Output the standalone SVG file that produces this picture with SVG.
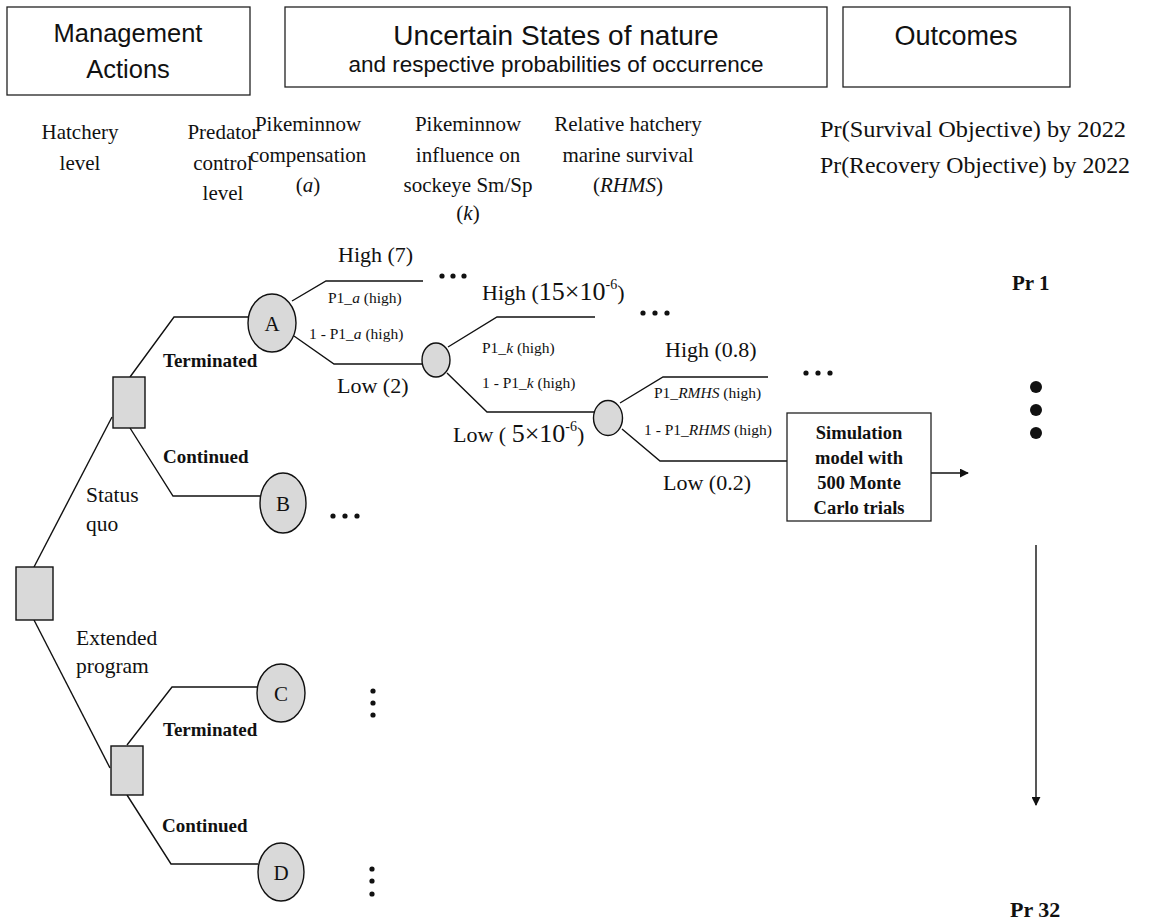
<svg xmlns="http://www.w3.org/2000/svg" width="1152" height="923" viewBox="0 0 1152 923">
<defs>
<style>
.hdr{font-family:"Liberation Sans",Arial,sans-serif;fill:#111;text-anchor:middle}
.ser{font-family:"Liberation Serif","Times New Roman",serif;fill:#111}
.mid{text-anchor:middle}
.b{font-weight:bold}
.box{fill:#fff;stroke:#222;stroke-width:1.3}
.ln{fill:none;stroke:#111;stroke-width:1.4}
.node{fill:#d9d9d9;stroke:#111;stroke-width:1.4}
.dot{fill:#111}
</style>
<marker id="arr" viewBox="0 0 10 10" refX="9" refY="5" markerWidth="9" markerHeight="9" markerUnits="userSpaceOnUse" orient="auto">
<path d="M0,0 L10,5 L0,10 z" fill="#111"/>
</marker>
</defs>
<rect width="1152" height="923" fill="#fff"/>

<g id="headers">
<rect class="box" x="7" y="7" width="243" height="88"/>
<text class="hdr" x="128" y="42" font-size="25.5">Management</text>
<text class="hdr" x="128" y="78" font-size="25.5">Actions</text>
<rect class="box" x="285" y="7" width="542" height="80"/>
<text class="hdr" x="556" y="45" font-size="28">Uncertain States of nature</text>
<text class="hdr" x="556" y="72" font-size="22.5">and respective probabilities of occurrence</text>
<rect class="box" x="843" y="7" width="227" height="80"/>
<text class="hdr" x="956" y="45" font-size="27">Outcomes</text>
</g>

<g id="column-labels" class="ser" font-size="21">
<text class="mid" x="80" y="139">Hatchery</text>
<text class="mid" x="80" y="170">level</text>
<text class="mid" x="223" y="139">Predator</text>
<text class="mid" x="223" y="170">control</text>
<text class="mid" x="223" y="200">level</text>
<text class="mid" x="308" y="131">Pikeminnow</text>
<text class="mid" x="308" y="162">compensation</text>
<text class="mid" x="308" y="192">(<tspan font-style="italic">a</tspan>)</text>
<text class="mid" x="468" y="131">Pikeminnow</text>
<text class="mid" x="468" y="162">influence on</text>
<text class="mid" x="468" y="192">sockeye Sm/Sp</text>
<text class="mid" x="468" y="220">(<tspan font-style="italic">k</tspan>)</text>
<text class="mid" x="628" y="131">Relative hatchery</text>
<text class="mid" x="628" y="162">marine survival</text>
<text class="mid" x="628" y="192">(<tspan font-style="italic">RHMS</tspan>)</text>
<text x="820" y="137" font-size="22.5" textLength="306" lengthAdjust="spacingAndGlyphs">Pr(Survival Objective) by 2022</text>
<text x="820" y="173" font-size="22.5" textLength="310" lengthAdjust="spacingAndGlyphs">Pr(Recovery Objective) by 2022</text>
</g>

<g id="connectors">
<path class="ln" d="M34,567 L112,417"/>
<path class="ln" d="M34,620 L110,768"/>
<path class="ln" d="M130,377 L174,317 L249,317"/>
<path class="ln" d="M130,428 L173,496 L260,496"/>
<path class="ln" d="M127,745 L172,687 L257,687"/>
<path class="ln" d="M127,795 L171,864 L258,864"/>
<path class="ln" d="M292,301 L326,281 L423,281"/>
<path class="ln" d="M294,336 L334,364 L422,364"/>
<path class="ln" d="M448,347 L497,317 L595,317"/>
<path class="ln" d="M447,373 L487,412 L594,412"/>
<path class="ln" d="M620,403 L663,377 L768,377"/>
<path class="ln" d="M622,429 L660,461 L787,461"/>
<path class="ln" d="M931,473 L968,473" marker-end="url(#arr)"/>
<path class="ln" d="M1036,545 L1036,805" marker-end="url(#arr)"/>
</g>

<g id="root"><rect class="node" x="16" y="567" width="37" height="53"/></g>
<g id="hatch-sq"><rect class="node" x="113" y="377" width="32" height="51"/></g>
<g id="hatch-ext"><rect class="node" x="111" y="746" width="32" height="49"/></g>

<g id="node-A"><ellipse class="node" cx="272" cy="323" rx="24" ry="29"/><text class="ser mid" x="272" y="331" font-size="21">A</text></g>
<g id="node-B"><ellipse class="node" cx="283" cy="503" rx="23" ry="30"/><text class="ser mid" x="283" y="511" font-size="21">B</text></g>
<g id="node-C"><ellipse class="node" cx="281" cy="693" rx="24" ry="29"/><text class="ser mid" x="281" y="701" font-size="21">C</text></g>
<g id="node-D"><ellipse class="node" cx="281" cy="872" rx="23" ry="29"/><text class="ser mid" x="281" y="880" font-size="21">D</text></g>
<g id="chance-k"><ellipse class="node" cx="436" cy="360" rx="14" ry="17"/></g>
<g id="chance-rhms"><ellipse class="node" cx="608" cy="418" rx="14.5" ry="17.5"/></g>

<g id="sim-box">
<rect class="box" x="787" y="413" width="144" height="108"/>
<g class="ser b mid" font-size="18.5">
<text x="859" y="439">Simulation</text>
<text x="859" y="464">model with</text>
<text x="859" y="489">500 Monte</text>
<text x="859" y="514">Carlo trials</text>
</g>
</g>

<g id="branch-labels" class="ser">
<text class="b" x="163" y="367" font-size="19">Terminated</text>
<text class="b" x="163" y="463" font-size="19">Continued</text>
<text x="86" y="502" font-size="21.5">Status</text>
<text x="86" y="531" font-size="21.5">quo</text>
<text x="76" y="645" font-size="21.5">Extended</text>
<text x="76" y="673" font-size="21.5">program</text>
<text class="b" x="163" y="736" font-size="19">Terminated</text>
<text class="b" x="162" y="832" font-size="19">Continued</text>

<text x="338" y="262" font-size="22">High (7)</text>
<text x="328" y="303" font-size="15.5">P1_<tspan font-style="italic">a</tspan> (high)</text>
<text x="309" y="339" font-size="15.5">1 - P1_<tspan font-style="italic">a</tspan> (high)</text>
<text x="337" y="393" font-size="22">Low (2)</text>

<text x="482" y="300" font-size="22">High (<tspan font-size="26">15×10</tspan><tspan font-size="14" dy="-11">-6</tspan><tspan dy="11">)</tspan></text>
<text x="482" y="353" font-size="15.5">P1_<tspan font-style="italic">k</tspan> (high)</text>
<text x="482" y="388" font-size="15.5">1 - P1_<tspan font-style="italic">k</tspan> (high)</text>
<text x="453" y="442" font-size="22">Low ( <tspan font-size="26">5×10</tspan><tspan font-size="14" dy="-11">-6</tspan><tspan dy="11">)</tspan></text>

<text x="665" y="357" font-size="22">High (0.8)</text>
<text x="654" y="398" font-size="15.5">P1_<tspan font-style="italic">RMHS</tspan> (high)</text>
<text x="644" y="435" font-size="15.5">1 - P1_<tspan font-style="italic">RHMS</tspan> (high)</text>
<text x="663" y="490" font-size="22">Low (0.2)</text>

<text class="b" x="1012" y="290" font-size="21">Pr 1</text>
<text class="b" x="1010" y="917" font-size="22">Pr 32</text>
</g>

<g id="ellipsis" class="dot">
<circle cx="442" cy="276" r="2.6"/><circle cx="453" cy="276" r="2.6"/><circle cx="464" cy="276" r="2.6"/>
<circle cx="643" cy="313" r="2.6"/><circle cx="655" cy="313" r="2.6"/><circle cx="667" cy="313" r="2.6"/>
<circle cx="806" cy="373" r="2.6"/><circle cx="818" cy="373" r="2.6"/><circle cx="830" cy="373" r="2.6"/>
<circle cx="333" cy="516" r="2.6"/><circle cx="345" cy="516" r="2.6"/><circle cx="357" cy="516" r="2.6"/>
<circle cx="373" cy="691" r="2.6"/><circle cx="373" cy="703" r="2.6"/><circle cx="373" cy="715" r="2.6"/>
<circle cx="372" cy="869" r="2.6"/><circle cx="372" cy="881" r="2.6"/><circle cx="372" cy="894" r="2.6"/>
<circle cx="1036" cy="387" r="6"/><circle cx="1036" cy="410" r="6"/><circle cx="1036" cy="433" r="6"/>
</g>
</svg>
